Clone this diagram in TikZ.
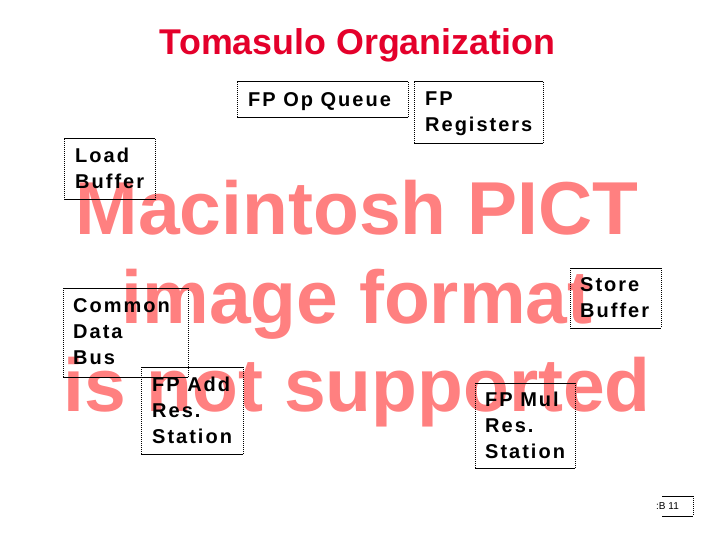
\documentclass[tikz,border=0pt]{standalone}
\usepackage{fontspec}
\setmainfont{Liberation Sans}
\newfontfamily\boxfont{Liberation Sans}[LetterSpace=10]

\definecolor{titlered}{RGB}{228,0,43}
\definecolor{pictpink}{RGB}{255,128,128}

\tikzset{
    boxtext/.style={font=\boxfont\bfseries\fontsize{20}{26}\selectfont, align=left, anchor=north west, inner sep=0pt},
    pictmark/.style={font=\bfseries\fontsize{75}{75}\selectfont, text=pictpink, anchor=base, inner sep=0pt},
    sideline/.style={line width=1pt, dash pattern=on 1pt off 1pt},
}

% solid top and bottom, dotted sides
\newcommand{\pictframe}[4]{%
    \draw [line width=1pt] (#1,#2) -- (#3,#2) (#1,#4) -- (#3,#4);
    \draw [sideline] (#1,#2) -- (#1,#4) (#3,#2) -- (#3,#4);
}

\begin{document}
\begin{tikzpicture}[x=1pt,y=-1pt]
    \fill[white] (0,0) rectangle (720,540);
    \useasboundingbox (0,0) rectangle (720,540);

    \draw node[font=\bfseries\fontsize{35.8}{36}\selectfont, text=titlered, anchor=base, inner sep=0pt] (title) at (357.5,55) {Tomasulo Organization};

    % placeholder text of the missing picture
    \draw node[pictmark] (mark1) at (357,235) {Macintosh PICT};
    \draw node[pictmark] (mark2) at (357,323) {image format};
    \draw node[pictmark] (mark3) at (357,411) {is not supported};

    \begin{scope}[black]
    \pictframe{237}{82}{408}{118}
    \pictframe{414}{82}{543}{144}
    \pictframe{64}{139}{155}{200}
    \pictframe{63}{288}{188}{377}
    \pictframe{141}{367}{243}{454}
    \pictframe{570}{268}{661}{328}
    \pictframe{475}{383}{575}{468}

    \draw node[boxtext] (queue) at (248,92) {FP Op Queue};
    \draw node[boxtext] (regs) at (425,92) {FP\\Registers};
    \draw node[boxtext] (load) at (75,148) {Load\\Buffer};
    \draw node[boxtext] (cdb) at (73,298) {Common\\Data\\Bus};
    \draw node[boxtext] (fpadd) at (152,377) {FP Add\\Res.\\Station};
    \draw node[boxtext] (store) at (580,277) {Store\\Buffer};
    \draw node[boxtext] (fpmul) at (485,392) {FP Mul\\Res.\\Station};
    \end{scope}

    % page number
    \draw [line width=1pt] (662,496) -- (693,496) (662,516) -- (693,516);
    \draw [sideline] (693,496) -- (693,516);
    \draw node[font=\fontsize{10}{10}\selectfont, anchor=base west, inner sep=0pt] (page) at (656,509) {:B 11};
\end{tikzpicture}
\end{document}
